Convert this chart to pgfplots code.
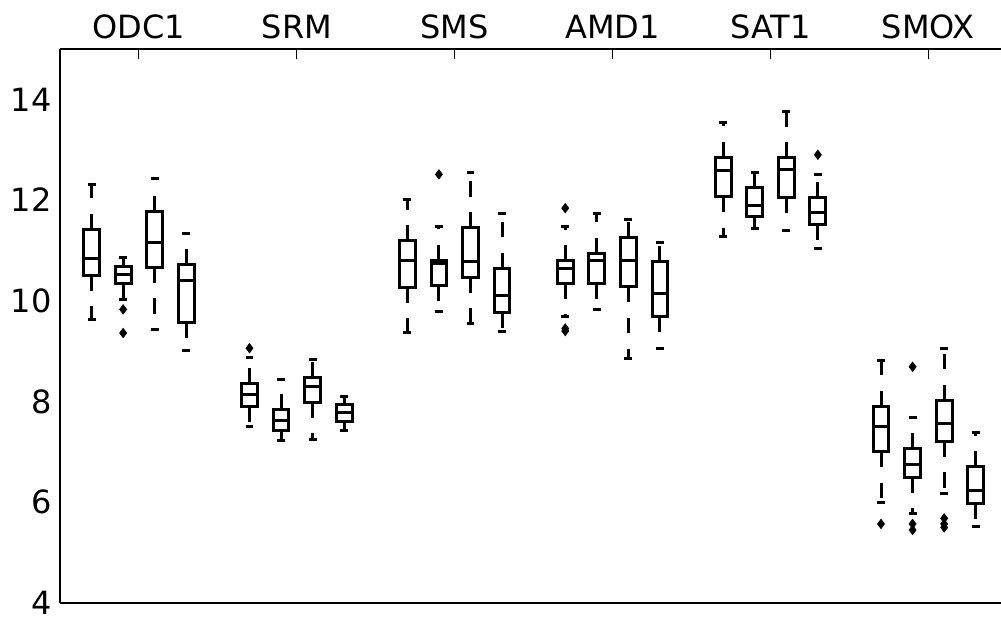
\documentclass[border=0pt]{standalone}
\usepackage{fontspec}
\setmainfont{DejaVu Sans}
\usepackage{pgfplots}
\pgfplotsset{compat=1.18}
\usepgfplotslibrary{statistics}

% vertical boxes; whiskers: dashed stem from the box outwards, solid cap at the end
\newcommand{\bpv}[1]{\pgfplotsboxplotvalue{#1}}
\pgfplotsset{
  boxplot/draw direction=y,
  boxplot/box extend=0.5,
  boxplot/draw/lower whisker/.code={%
    \pgfmathsetmacro\dpL{\bpv{draw position}-0.125}%
    \pgfmathsetmacro\dpR{\bpv{draw position}+0.125}%
    \draw[dash pattern=on 7.75pt off 7.75pt]
      (axis cs:\bpv{draw position},\bpv{lower quartile}) --
      (axis cs:\bpv{draw position},\bpv{lower whisker});
    \draw[solid]
      (axis cs:\dpL,\bpv{lower whisker}) --
      (axis cs:\dpR,\bpv{lower whisker});
  },
  boxplot/draw/upper whisker/.code={%
    \pgfmathsetmacro\dpL{\bpv{draw position}-0.125}%
    \pgfmathsetmacro\dpR{\bpv{draw position}+0.125}%
    \draw[dash pattern=on 7.75pt off 7.75pt]
      (axis cs:\bpv{draw position},\bpv{upper quartile}) --
      (axis cs:\bpv{draw position},\bpv{upper whisker});
    \draw[solid]
      (axis cs:\dpL,\bpv{upper whisker}) --
      (axis cs:\dpR,\bpv{upper whisker});
  },
  bp/.style={black, line width=1.5pt, solid,
    mark=diamond*, mark size=2.3pt, mark options={solid, fill=black, line width=0.4pt}},
}

% position, lower whisker, lower quartile, median, upper quartile, upper whisker
\newcommand{\bx}[6]{%
  \addplot[bp, boxplot prepared={draw position=#1, lower whisker=#2,
    lower quartile=#3, median=#4, upper quartile=#5, upper whisker=#6}]
    coordinates {};}
% same, with outliers given as a list "v1\\ v2\\"
\newcommand{\bxo}[7]{%
  \addplot[bp, boxplot prepared={draw position=#1, lower whisker=#2,
    lower quartile=#3, median=#4, upper quartile=#5, upper whisker=#6}]
    table[row sep=\\, y index=0] {v\\ #7};}

\begin{document}
\begin{tikzpicture}
\begin{axis}[
  width=470.5pt, height=277pt, scale only axis,
  xmin=0, xmax=29.8, ymin=4, ymax=15,
  separate axis lines,
  axis x line*=box, axis y line*=left,
  axis line style={line width=1pt, black},
  xtick={2.5,7.5,12.5,17.5,22.5,27.5},
  xticklabels={ODC1,SRM,SMS,AMD1,SAT1,SMOX},
  xtick pos=right, xticklabel pos=right,
  ytick={4,6,8,10,12,14},
  ytick style={draw=none},
  xtick style={line width=0.5pt, black},
  major tick length=5pt,
  tick align=inside,
  tick label style={font=\fontsize{16}{19}\selectfont, black},
  xticklabel style={inner sep=0pt, anchor=south, yshift=5pt},
  yticklabel style={inner sep=0pt, anchor=east, xshift=-4pt},
  /pgf/number format/assume math mode=true,
  clip=false,
]
% ODC1
\bx{1}{9.62}{10.51}{10.84}{11.42}{12.30}
\bxo{2}{10.03}{10.35}{10.53}{10.69}{10.86}{9.83\\ 9.36\\}
\bx{3}{9.43}{10.67}{11.15}{11.78}{12.42}
\bx{4}{9.02}{9.56}{10.41}{10.72}{11.33}
% SRM
\bxo{6}{7.51}{7.91}{8.14}{8.36}{8.87}{9.06\\}
\bx{7}{7.22}{7.42}{7.63}{7.85}{8.44}
\bx{8}{7.24}{7.99}{8.30}{8.48}{8.83}
\bx{9}{7.42}{7.61}{7.78}{7.94}{8.10}
% SMS
\bx{11}{9.37}{10.27}{10.81}{11.19}{12.02}
\bxo{12}{9.78}{10.30}{10.74}{10.81}{11.48}{12.51\\}
\bx{13}{9.54}{10.47}{10.78}{11.45}{12.54}
\bx{14}{9.39}{9.76}{10.10}{10.65}{11.74}
% AMD1
\bxo{16}{9.69}{10.35}{10.64}{10.80}{11.47}{11.84\\ 9.45\\ 9.40\\}
\bx{17}{9.82}{10.35}{10.81}{10.94}{11.73}
\bx{18}{8.86}{10.28}{10.80}{11.26}{11.62}
\bx{19}{9.06}{9.69}{10.14}{10.79}{11.16}
% SAT1
\bx{21}{11.27}{12.07}{12.59}{12.85}{13.55}
\bx{22}{11.43}{11.67}{11.90}{12.25}{12.54}
\bx{23}{11.40}{12.05}{12.60}{12.84}{13.76}
\bxo{24}{11.03}{11.51}{11.76}{12.06}{12.51}{12.90\\}
% SMOX
\bxo{26}{5.99}{7.00}{7.51}{7.91}{8.82}{5.57\\}
\bxo{27}{5.77}{6.50}{6.75}{7.06}{7.69}{8.69\\ 5.57\\ 5.45\\}
\bxo{28}{6.18}{7.21}{7.57}{8.03}{9.05}{5.68\\ 5.57\\ 5.50\\}
\bx{29}{5.52}{5.97}{6.24}{6.71}{7.38}
\end{axis}
\pgfresetboundingbox
\path[use as bounding box] (-30pt,-7pt) rectangle (470.5pt,301.5pt);
\end{tikzpicture}
\end{document}
